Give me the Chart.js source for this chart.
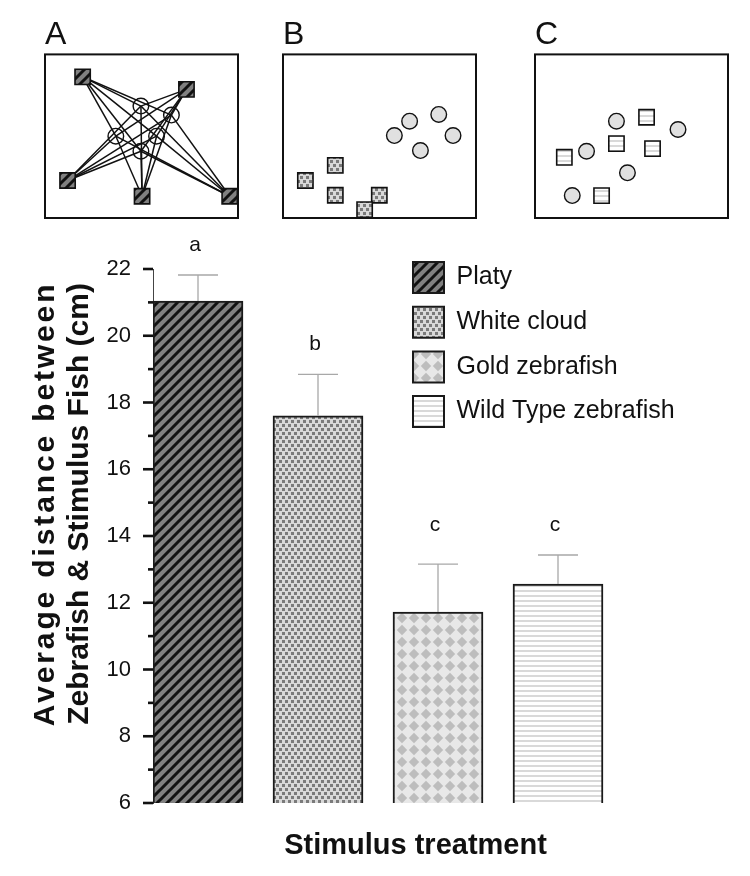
<!DOCTYPE html>
<html>
<head>
<meta charset="utf-8">
<script src="https://cdn.jsdelivr.net/npm/chart.js@4.4.1/dist/chart.umd.min.js"></script>
<style>
  body { margin: 0; background: #fff; width: 750px; height: 876px; position: relative; overflow: hidden; }
  .wrap { position: absolute; }
</style>
</head>
<body>
<div class="wrap" style="left:0;top:0;width:750px;height:876px"><canvas id="mainChart"></canvas></div>
<div class="wrap" style="left:44px;top:0;width:196px;height:222px"><canvas id="panelA"></canvas></div>
<div class="wrap" style="left:282px;top:0;width:196px;height:222px"><canvas id="panelB"></canvas></div>
<div class="wrap" style="left:534px;top:0;width:196px;height:222px"><canvas id="panelC"></canvas></div>
<script>
const FONT = '"Liberation Sans", Arial, sans-serif';
Chart.defaults.font.family = FONT;
Chart.defaults.color = '#111';

// bar chart data
const categories = ["Platy", "White cloud", "Gold zebrafish", "Wild Type zebrafish"];
const means = [21.04, 17.6, 11.72, 12.56];
const errors = [0.78, 1.24, 1.44, 0.87];
const letters = ["a", "b", "c", "c"];
const letterPos = [22.72, 19.74, 14.33, 14.33];
const yMin = 6, yMax = 22, yStep = 2;
const yTitle = ["Average distance between", "Zebrafish & Stimulus Fish (cm)"];
const xTitle = "Stimulus treatment";

// panel points, x/y in 0..100 of each box
const squaresA = [[19.5, 86.3], [73.3, 78.6], [11.7, 22.9], [50.3, 13.3], [95.7, 13.3]];
const circlesA = [[49.7, 68.4], [65.5, 62.9], [36.7, 50], [57.8, 50], [49.7, 40.8]];
const squaresB = [[27.1, 32.2], [11.6, 22.9], [27.1, 13.9], [49.9, 13.9], [42.3, 5.1]];
const circlesB = [[65.6, 59.2], [80.7, 63.3], [57.7, 50.4], [88.1, 50.4], [71.2, 41.2]];
const squaresC = [[57.8, 61.6], [42.2, 45.5], [60.9, 42.4], [15.2, 37.1], [34.5, 13.7]];
const circlesC = [[42.2, 59.2], [74.1, 54.1], [26.7, 40.8], [47.9, 27.6], [19.3, 13.7]];

function makePattern(w, h, draw) {
  const c = document.createElement('canvas');
  c.width = w; c.height = h;
  draw(c.getContext('2d'));
  return c.getContext('2d').createPattern(c, 'repeat');
}

const hatch = makePattern(10, 10, g => {
  g.fillStyle = '#808080'; g.fillRect(0, 0, 10, 10);
  g.strokeStyle = '#111'; g.lineWidth = 3;
  g.beginPath();
  g.moveTo(-5, 5); g.lineTo(5, -5);
  g.moveTo(0, 10); g.lineTo(10, 0);
  g.moveTo(5, 15); g.lineTo(15, 5);
  g.stroke();
});
const dots = makePattern(6, 8, g => {
  g.fillStyle = '#d8d8d8'; g.fillRect(0, 0, 6, 8);
  g.fillStyle = '#7a7a7a'; g.fillRect(0, 0, 3, 3); g.fillRect(3, 4, 3, 3);
});
const diamonds = makePattern(12, 12, g => {
  g.fillStyle = '#e8e8e8'; g.fillRect(0, 0, 12, 12);
  g.fillStyle = '#bdbdbd';
  g.beginPath(); g.moveTo(6, 0.8); g.lineTo(11.2, 6); g.lineTo(6, 11.2); g.lineTo(0.8, 6); g.closePath(); g.fill();
});
const stripes = makePattern(4, 5, g => {
  g.fillStyle = '#fff'; g.fillRect(0, 0, 4, 5);
  g.fillStyle = '#d9d9d9'; g.fillRect(0, 0, 4, 2);
});
const barFills = [hatch, dots, diamonds, stripes];

// ticks on the y axis: long at labelled values, short in between
const axisTicks = {
  id: 'axisTicks',
  afterDraw(chart) {
    const { ctx, chartArea, scales: { y } } = chart;
    ctx.save();
    ctx.fillStyle = '#111';
    for (let v = yMin; v <= yMax; v++) {
      const py = y.getPixelForValue(v);
      const len = (v - yMin) % yStep === 0 ? 10 : 5;
      ctx.fillRect(chartArea.left - len, py - 1.3, len, 2.6);
    }
    ctx.restore();
  }
};

// two-line rotated axis title, first line spread to the width of the second
const yTitleDraw = {
  id: 'yTitleDraw',
  afterDraw(chart) {
    const { ctx, chartArea: a } = chart;
    const cy = a.top + (a.bottom - a.top) * 0.44;
    const xs = [46, 80];
    ctx.save();
    ctx.font = 'bold 30px ' + FONT;
    ctx.fillStyle = '#111';
    ctx.textAlign = 'center';
    ctx.textBaseline = 'middle';
    const w0 = ctx.measureText(yTitle[0]).width, w1 = ctx.measureText(yTitle[1]).width;
    yTitle.forEach((t, i) => {
      ctx.save();
      ctx.translate(xs[i], cy);
      ctx.rotate(-Math.PI / 2);
      if (i === 0 && 'letterSpacing' in ctx) ctx.letterSpacing = ((w1 - w0) / (t.length - 1)).toFixed(2) + 'px';
      ctx.fillText(t, 0, 0);
      ctx.restore();
    });
    ctx.restore();
  }
};

const errorBars = {
  id: 'errorBars',
  afterDatasetsDraw(chart) {
    const { ctx, scales: { x, y } } = chart;
    ctx.save();
    ctx.strokeStyle = '#a8a8a8';
    ctx.lineWidth = 1.3;
    means.forEach((m, i) => {
      const px = x.getPixelForValue(i);
      const top = y.getPixelForValue(m + errors[i]);
      const base = y.getPixelForValue(m);
      ctx.beginPath();
      ctx.moveTo(px, base); ctx.lineTo(px, top);
      ctx.moveTo(px - 20, top); ctx.lineTo(px + 20, top);
      ctx.stroke();
    });
    ctx.fillStyle = '#111';
    ctx.font = '21px ' + FONT;
    ctx.textAlign = 'center';
    ctx.textBaseline = 'middle';
    letters.forEach((t, i) => ctx.fillText(t, x.getPixelForValue(i) - 3, y.getPixelForValue(letterPos[i])));
    ctx.restore();
  }
};

// move the legend box to the upper right of the plot
const legendPlace = {
  id: 'legendPlace',
  afterLayout(chart) {
    const lg = chart.legend, pad = lg.options.labels.padding;
    const w = lg.width, h = lg.height;
    lg.left = chart.chartArea.left + 260 - pad;
    lg.top = chart.chartArea.top - 7 - pad;
    lg.right = lg.left + w;
    lg.bottom = lg.top + h;
  }
};

new Chart(document.getElementById('mainChart'), {
  type: 'bar',
  data: {
    datasets: [{
      data: means.map((v, i) => ({ x: i, y: v })),
      backgroundColor: barFills,
      borderColor: '#1a1a1a',
      borderWidth: 2,
      borderSkipped: false,
      barThickness: 90
    }]
  },
  options: {
    responsive: true,
    maintainAspectRatio: false,
    animation: false,
    events: [],
    layout: { padding: { top: 269, right: 72, bottom: 0, left: 0 } },
    scales: {
      x: {
        type: 'linear', min: -0.375, max: 4, offset: false,
        grid: { display: false }, border: { display: false }, ticks: { display: false },
        title: { display: true, text: xTitle, font: { size: 29, weight: 'bold' }, padding: { top: 0, bottom: 13 } },
        afterFit: s => { s.height = 73; }
      },
      y: {
        min: yMin, max: yMax,
        ticks: { stepSize: yStep, padding: 22, font: { size: 22 }, color: '#111' },
        grid: { display: false, drawTicks: false },
        border: { display: true, color: '#444', width: 1 },
        title: { display: false },
        afterFit: s => { s.width = 153; }
      }
    },
    plugins: {
      tooltip: { enabled: false },
      legend: {
        position: 'chartArea',
        align: 'start',
        labels: {
          boxWidth: 31, boxHeight: 31, padding: 13.7,
          font: { size: 25 }, color: '#111',
          generateLabels: () => categories.map((c, i) => ({
            text: c, fillStyle: barFills[i], strokeStyle: '#1a1a1a', lineWidth: 2,
            hidden: false, index: i, fontColor: '#111'
          }))
        }
      }
    }
  },
  plugins: [axisTicks, yTitleDraw, errorBars, legendPlace]
});

// small diagrams above the bars
const frame = {
  id: 'frame',
  afterDraw(chart) {
    const { ctx, chartArea: a } = chart;
    ctx.save();
    ctx.strokeStyle = '#111';
    ctx.lineWidth = 2;
    ctx.strokeRect(a.left, a.top, a.right - a.left, a.bottom - a.top);
    ctx.restore();
  }
};

function panel(id, letter, squares, circles, squareFill, circleFill, withLines) {
  const pts = arr => arr.map(p => ({ x: p[0], y: p[1] }));
  const datasets = [
    { data: pts(squares), pointStyle: 'rect', pointRadius: 10.8, backgroundColor: squareFill, borderColor: '#111', borderWidth: 1.6, clip: false },
    { data: pts(circles), pointStyle: 'circle', pointRadius: 7.8, backgroundColor: circleFill, borderColor: '#111', borderWidth: 1.4, clip: false }
  ];
  if (withLines) {
    squares.forEach(s => circles.forEach(c => datasets.push({
      data: pts([s, c]), showLine: true, pointRadius: 0, borderColor: '#111', borderWidth: 1.5, clip: false
    })));
  }
  new Chart(document.getElementById(id), {
    type: 'scatter',
    data: { datasets },
    options: {
      responsive: true, maintainAspectRatio: false, animation: false, events: [],
      layout: { autoPadding: false, padding: { left: 1, right: 2, bottom: 4, top: 0 } },
      scales: {
        x: { display: false, min: 0, max: 100 },
        y: { display: false, min: 0, max: 100 }
      },
      plugins: {
        legend: { display: false },
        tooltip: { enabled: false },
        title: { display: true, text: letter, align: 'start', font: { size: 32, weight: 'normal' }, color: '#111', padding: { top: 16, bottom: 0 } }
      }
    },
    plugins: [frame]
  });
}

panel('panelA', 'A', squaresA, circlesA, hatch, 'rgba(255,255,255,0)', true);
panel('panelB', 'B', squaresB, circlesB, dots, '#e0e0e0', false);
panel('panelC', 'C', squaresC, circlesC, stripes, '#e0e0e0', false);
</script>
</body>
</html>
